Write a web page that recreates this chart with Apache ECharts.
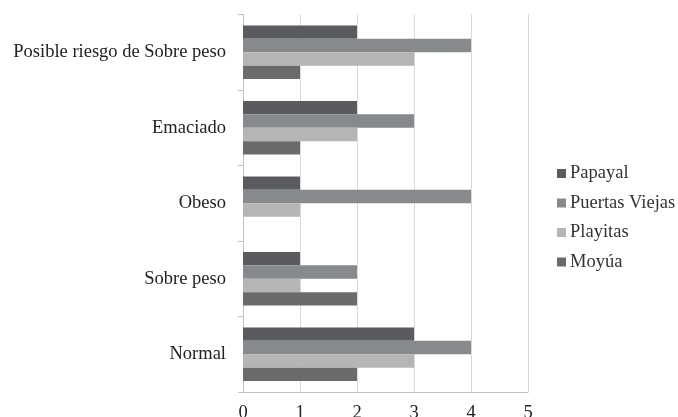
<!DOCTYPE html>
<html><head><meta charset="utf-8">
<script src="https://cdn.jsdelivr.net/npm/echarts@6/dist/echarts.min.js"></script>
<style>html,body{margin:0;padding:0;background:#fff}#c{width:678px;height:417px}</style>
</head><body><div id="c"></div>
<script>
const categories = ['Normal', 'Sobre peso', 'Obeso', 'Emaciado', 'Posible riesgo de Sobre peso'];
const seriesNames = ['Papayal', 'Puertas Viejas', 'Playitas', 'Moyúa'];
const papayal = [3, 1, 1, 2, 2];
const puertasViejas = [4, 2, 4, 3, 4];
const playitas = [3, 1, 1, 2, 3];
const moyua = [2, 2, 0, 1, 1];
const xTicks = [0, 1, 2, 3, 4, 5];

const values = [papayal, puertasViejas, playitas, moyua];
const colors = ['#5a5b5f', '#868a8d', '#b4b5b4', '#6b6b6b'];
const font = '"Liberation Serif", "Times New Roman", serif';

const chart = echarts.init(document.getElementById('c'), null, {renderer: 'canvas'});
chart.setOption({
  animation: false,
  backgroundColor: '#fff',
  textStyle: {fontFamily: font},
  grid: {left: 243, right: 150, top: 14.5, bottom: 25, containLabel: false, outerBoundsMode: 'none'},
  legend: {
    orient: 'vertical', left: 552, top: 159,
    itemWidth: 9, itemHeight: 9, itemGap: 10.5,
    icon: 'rect',
    data: seriesNames,
    textStyle: {fontFamily: font, fontSize: 18.5, color: '#333', padding: [0, 0, 0, -1]}
  },
  xAxis: {
    type: 'value', min: xTicks[0], max: xTicks[xTicks.length - 1], interval: 1,
    axisLine: {show: true, lineStyle: {color: '#bfbfbf'}},
    axisTick: {show: false},
    axisLabel: {fontFamily: font, fontSize: 18.5, color: '#222', margin: 12},
    splitLine: {show: true, lineStyle: {color: '#d9d9d9'}}
  },
  yAxis: {
    type: 'category', data: categories,
    axisLine: {show: true, lineStyle: {color: '#bfbfbf'}},
    axisTick: {show: true, length: 5, lineStyle: {color: '#bfbfbf'}},
    axisLabel: {fontFamily: font, fontSize: 18.5, color: '#222', margin: 17}
  },
  series: seriesNames.map((n, i) => ({
    name: n, type: 'bar', data: values[i],
    itemStyle: {color: colors[i]},
    barGap: '0%', barCategoryGap: '29%'
  }))
});
</script></body></html>
